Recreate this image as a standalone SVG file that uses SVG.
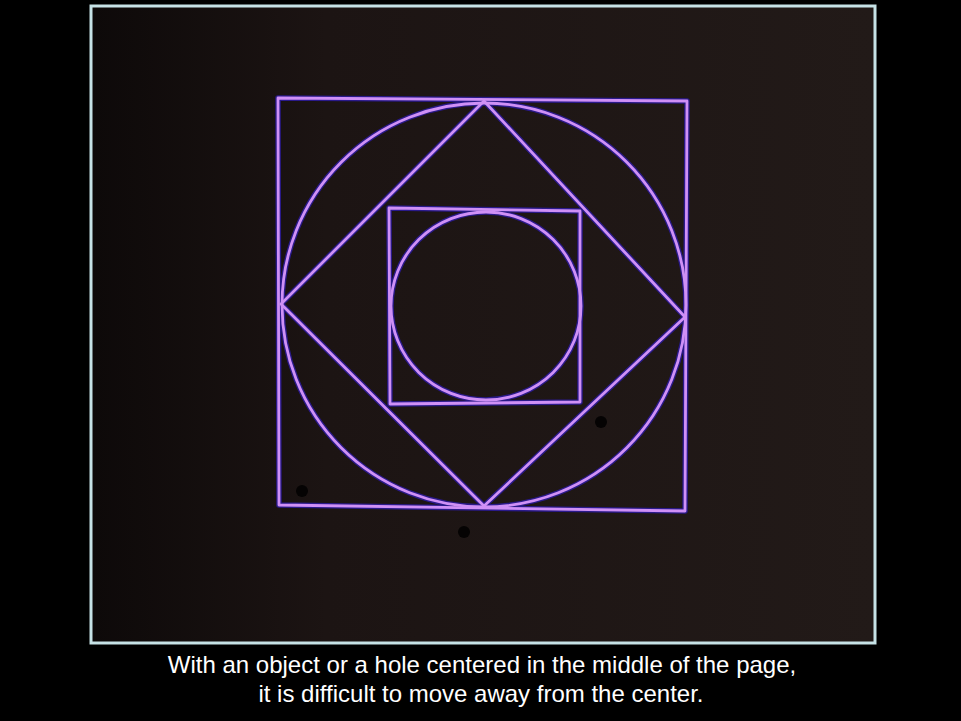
<svg xmlns="http://www.w3.org/2000/svg" width="961" height="721" viewBox="0 0 961 721">
<defs>
<linearGradient id="bg" x1="0" y1="0" x2="1" y2="0">
<stop offset="0" stop-color="#0d0909"/>
<stop offset="0.3" stop-color="#1c1413"/>
<stop offset="1" stop-color="#221a18"/>
</linearGradient>
<style>
.halo{fill:none;stroke:#2a1a8a;stroke-width:5.5;stroke-linejoin:round}
.ln{fill:none;stroke:#cf90f6;stroke-width:2.8;stroke-linejoin:round}
.cap{font-family:"Liberation Sans",Arial,sans-serif;font-size:24px;fill:#ffffff;text-anchor:middle}
.dot{fill:#050303}
</style>
</defs>
<rect width="961" height="721" fill="#000"/>
<rect x="91" y="6" width="784" height="637" fill="url(#bg)" stroke="#c6e2e6" stroke-width="3"/>
<g id="shapes">
<g class="halo">
<polygon points="278,98 687,101 685,511 279,505"/>
<circle cx="484" cy="305" r="202"/>
<polygon points="484,101 685,317 484,506 281,304"/>
<polygon points="389,208 580,211 580,402 390,404"/>
<ellipse cx="486" cy="306" rx="95" ry="94"/>
</g>
<g id="outer-square"><polygon class="ln" points="278,98 687,101 685,511 279,505"/></g>
<g id="outer-circle"><circle class="ln" cx="484" cy="305" r="202"/></g>
<g id="diamond"><polygon class="ln" points="484,101 685,317 484,506 281,304"/></g>
<g id="inner-square"><polygon class="ln" points="389,208 580,211 580,402 390,404"/></g>
<g id="inner-circle"><ellipse class="ln" cx="486" cy="306" rx="95" ry="94"/></g>
</g>
<circle class="dot" cx="302" cy="491" r="6"/>
<circle class="dot" cx="601" cy="422" r="6"/>
<circle class="dot" cx="464" cy="532" r="6"/>
<text class="cap" x="482" y="673">With an object or a hole centered in the middle of the page,</text>
<text class="cap" x="481" y="702">it is difficult to move away from the center.</text>
</svg>
